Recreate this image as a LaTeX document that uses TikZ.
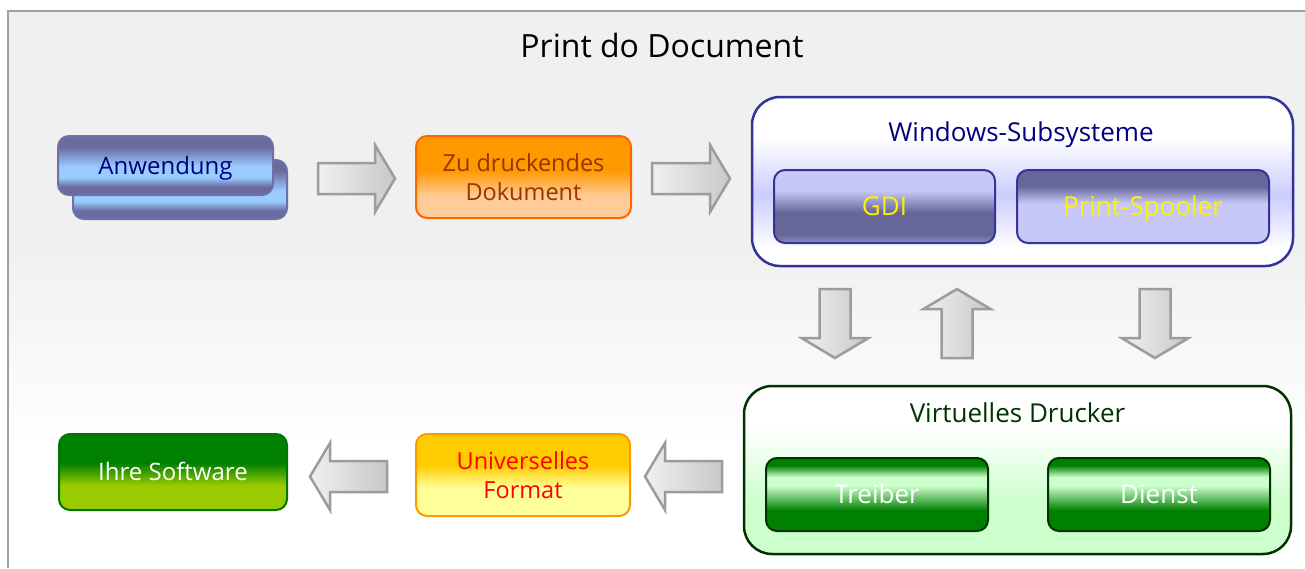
\documentclass[tikz,border=0pt]{standalone}
\usepackage{fontspec}
\setmainfont{Open Sans}
\usetikzlibrary{positioning,calc}

\definecolor{bggray}{HTML}{F0F0F0}
\definecolor{framegray}{HTML}{A0A0A0}
\definecolor{arrowlight}{HTML}{F0F0F0}
\definecolor{arrowdark}{HTML}{C8C8C8}
\definecolor{arrowgray}{HTML}{9C9C9C}
\definecolor{navytext}{HTML}{000080}
\definecolor{anwdark}{HTML}{6A6A9E}
\definecolor{anwlight}{HTML}{99CCFF}
\definecolor{anwline}{HTML}{7070A8}
\definecolor{docdark}{HTML}{FF9900}
\definecolor{doclight}{HTML}{FFCC99}
\definecolor{docline}{HTML}{FF6600}
\definecolor{doctext}{HTML}{993300}
\definecolor{winlav}{HTML}{CCCCFF}
\definecolor{winline}{HTML}{333399}
\definecolor{gdidark}{HTML}{666699}
\definecolor{gdimid}{HTML}{8484B8}
\definecolor{gdilight}{HTML}{C8C8F8}
\definecolor{vdgreen}{HTML}{CCFFCC}
\definecolor{vdline}{HTML}{003300}
\definecolor{vdtext}{HTML}{003300}
\definecolor{drvdark}{HTML}{008000}
\definecolor{drvlight}{HTML}{CCFFCC}
\definecolor{univdark}{HTML}{FFCC00}
\definecolor{univlight}{HTML}{FFFF99}
\definecolor{univline}{HTML}{FF9900}
\definecolor{ihredark}{HTML}{008000}
\definecolor{ihrelight}{HTML}{99CC00}
\definecolor{ihreline}{HTML}{007700}

\pgfdeclareverticalshading{bgshade}{100bp}{color(0bp)=(white); color(36bp)=(white); color(54bp)=(bggray); color(100bp)=(bggray)}
\pgfdeclareverticalshading{anwshade}{100bp}{color(0bp)=(anwdark); color(32bp)=(anwdark); color(40bp)=(anwlight); color(49bp)=(anwlight); color(66bp)=(anwdark); color(100bp)=(anwdark)}
\pgfdeclareverticalshading{docshade}{100bp}{color(0bp)=(doclight); color(38bp)=(doclight); color(54bp)=(docdark); color(100bp)=(docdark)}
\pgfdeclareverticalshading{winshade}{100bp}{color(0bp)=(white); color(30bp)=(white); color(46bp)=(winlav); color(63bp)=(white); color(100bp)=(white)}
\pgfdeclareverticalshading{gdishade}{100bp}{color(0bp)=(gdimid); color(26bp)=(gdimid); color(31bp)=(gdidark); color(46bp)=(gdidark); color(61bp)=(gdilight); color(100bp)=(gdilight)}
\pgfdeclareverticalshading{spoolshade}{100bp}{color(0bp)=(gdilight); color(52bp)=(gdilight); color(64bp)=(gdidark); color(100bp)=(gdidark)}
\pgfdeclareverticalshading{vdshade}{100bp}{color(0bp)=(vdgreen); color(40bp)=(vdgreen); color(63bp)=(white); color(100bp)=(white)}
\pgfdeclareverticalshading{drvshade}{100bp}{color(0bp)=(drvdark); color(39bp)=(drvdark); color(56bp)=(drvlight); color(62bp)=(drvlight); color(70bp)=(drvdark); color(100bp)=(drvdark)}
\pgfdeclareverticalshading{univshade}{100bp}{color(0bp)=(univlight); color(42bp)=(univlight); color(56bp)=(univdark); color(100bp)=(univdark)}
\pgfdeclareverticalshading{ihreshade}{100bp}{color(0bp)=(ihrelight); color(41bp)=(ihrelight); color(56bp)=(ihredark); color(100bp)=(ihredark)}

\tikzstyle{box} = [rectangle, rounded corners=11pt, inner sep=0pt, line width=2pt, shade, align=center]
\tikzstyle{group} = [rectangle, rounded corners=28pt, inner sep=0pt, line width=2.5pt, shade]
\tikzstyle{onetext} = [font=\fontsize{24}{29}\selectfont, text height=17pt, text depth=0pt]
\tikzstyle{twotext} = [font=\fontsize{23.5}{29.5}\selectfont]
\tikzstyle{bigtext} = [font=\fontsize{26}{31}\selectfont, text height=18.6pt, text depth=0pt]
\tikzstyle{headtext} = [font=\fontsize{32}{38}\selectfont, text height=22.8pt, text depth=0pt, inner sep=0pt]
\tikzstyle{arrowline} = [draw=arrowgray, line width=2.5pt, left color=arrowlight, right color=arrowdark]

\tikzset{
  pics/bigarrow/.style={code={
    \path[arrowline] (-#1/2,-15.5) -- ++(#1-20,0) -- ++(0,-18) -- (#1/2,0)
      -- (#1/2-20,33.5) -- ++(0,-18) -- (-#1/2,15.5) -- cycle;
  }}
}

\begin{document}
\begin{tikzpicture}[x=1pt,y=-1pt]
  \useasboundingbox (0,0) rectangle (1305,568);

  % background and frame
  \shade[shading=bgshade] (8,11) rectangle (1305,568);
  \draw[framegray, line width=2pt] (8,568) -- (8,11) -- (1305,11);

  \node[headtext] (head) at (662,46) {Print do Document};

  % top row
  \node[box, shading=anwshade, draw=anwline, minimum width=214pt, minimum height=59pt] (anwback) at (180,189.5) {};
  \node[box, shading=anwshade, draw=anwline, minimum width=215pt, minimum height=59pt, onetext, text=navytext] (anw) at (165.5,165.5) {Anwendung};
  \node[box, shading=docshade, draw=docline, minimum width=215pt, minimum height=82pt, twotext, text=doctext] (doc) at (523.5,177) {Zu druckendes\\Dokument};

  \node[group, shading=winshade, draw=winline, minimum width=541pt, minimum height=169pt] (win) at (1022.5,181.5) {};
  \node[bigtext, text=navytext] (wintitle) at (1021,132.5) {Windows-Subsysteme};
  \node[box, shading=gdishade, draw=winline, minimum width=221pt, minimum height=73pt, bigtext, text=yellow] (gdi) at (884.5,206.5) {GDI};
  \node[box, shading=spoolshade, draw=winline, minimum width=252pt, minimum height=73pt, bigtext, text=yellow] (spool) at (1143,206.5) {Print-Spooler};

  % bottom row
  \node[group, shading=vdshade, draw=vdline, minimum width=547pt, minimum height=168pt] (vd) at (1017.5,470) {};
  \node[bigtext, text=vdtext] (vdtitle) at (1017.5,413) {Virtuelles Drucker};
  \node[box, shading=drvshade, draw=vdline, minimum width=222pt, minimum height=73pt, bigtext, text=white] (treiber) at (877,494.5) {Treiber};
  \node[box, shading=drvshade, draw=vdline, minimum width=222pt, minimum height=73pt, bigtext, text=white] (dienst) at (1159,494.5) {Dienst};

  \node[box, shading=univshade, draw=univline, minimum width=214pt, minimum height=82pt, twotext, text=red] (univ) at (523,475) {Universelles\\Format};
  \node[box, shading=ihreshade, draw=ihreline, minimum width=228pt, minimum height=76pt, onetext, text=white] (ihre) at (173,472) {Ihre Software};

  % block arrows
  \pic (arr1) at (356.5,178.5) {bigarrow=77};
  \pic (arr2) at (691,178.5) {bigarrow=78};
  \pic[rotate=-90] (arr3) at (835,323.5) {bigarrow=69};
  \pic[rotate=90] (arr4) at (957,323.5) {bigarrow=69};
  \pic[rotate=-90] (arr5) at (1155,323.5) {bigarrow=69};
  \pic[rotate=180] (arr6) at (683.5,476.5) {bigarrow=77};
  \pic[rotate=180] (arr7) at (348.5,476.5) {bigarrow=77};
\end{tikzpicture}
\end{document}
